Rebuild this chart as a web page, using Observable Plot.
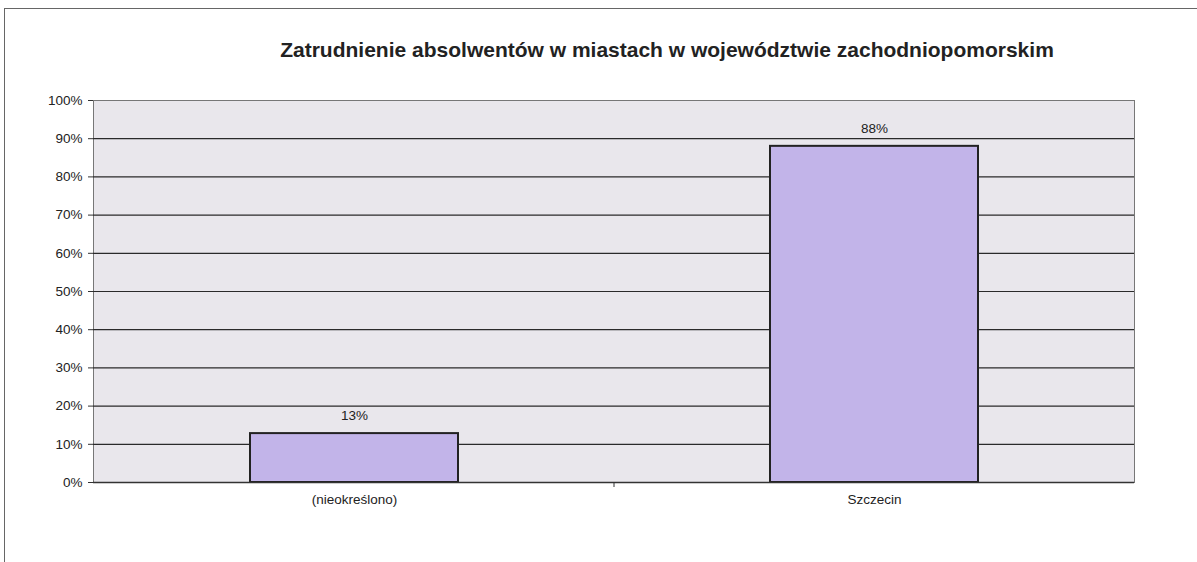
<!DOCTYPE html>
<html>
<head>
<meta charset="utf-8">
<script src="https://cdn.jsdelivr.net/npm/d3@7"></script>
<script src="https://cdn.jsdelivr.net/npm/@observablehq/plot@0.6"></script>
<style>
  html, body { margin: 0; padding: 0; background: #fff; }
  #wrap { position: relative; width: 1197px; height: 562px; overflow: hidden; font-family: Arial, "Liberation Sans", sans-serif; }
  #border { position: absolute; left: 4px; top: 8px; right: -10px; bottom: -10px; border-top: 1.5px solid #666; border-left: 1.5px solid #666; }
  #title { position: absolute; top: 37px; left: 667px; transform: translateX(-50%); white-space: nowrap; font-size: 21px; font-weight: bold; color: #222; line-height: 26px; }
  #chart { position: absolute; left: 0; top: 70px; }
</style>
</head>
<body>
<div id="wrap">
  <div id="border"></div>
  <div id="title">Zatrudnienie absolwentów w miastach w województwie zachodniopomorskim</div>
  <div id="chart"></div>
</div>
<script>
const categories = ["(nieokreślono)", "Szczecin"];
const values = [0.128, 0.88];
const yTicks = [0, 0.1, 0.2, 0.3, 0.4, 0.5, 0.6, 0.7, 0.8, 0.9, 1.0];

const data = categories.map((c, i) => ({category: c, value: values[i]}));
const pct = d3.format(".0%");

// separator tick between categories (Excel style), positioned via the x scale
function categorySeparators(index, scales, values, dims) {
  const g = d3.create("svg:g");
  const x = scales.x;
  const bw = x.bandwidth();
  const step = x.step();
  const y0 = dims.height - dims.marginBottom;
  for (let i = 1; i < categories.length; i++) {
    const px = x(categories[i]) - (step - bw) / 2;
    g.append("line").attr("x1", px).attr("x2", px).attr("y1", y0).attr("y2", y0 + 5)
      .attr("stroke", "#333").attr("stroke-width", 1);
  }
  return g.node();
}

const chart = Plot.plot({
  width: 1197,
  height: 492,
  marginLeft: 93,
  marginRight: 63,
  marginTop: 30,
  marginBottom: 80,
  style: {fontFamily: "Arial, 'Liberation Sans', sans-serif", fontSize: "13.5px", color: "#222", background: "transparent"},
  x: {domain: categories, paddingInner: 0.6, paddingOuter: 0.3},
  y: {domain: [0, 1]},
  marks: [
    Plot.frame({fill: "#e9e7ec", stroke: "#777", strokeWidth: 1}),
    Plot.ruleY(yTicks.slice(1, -1), {stroke: "#2a2a2a", strokeWidth: 1.2}),
    Plot.barY(data, {x: "category", y: "value", fill: "#c2b4e9", stroke: "#222", strokeWidth: 2}),
    Plot.text(data, {x: "category", y: "value", text: d => pct(d.value), dy: -18, fontSize: 13.5, fill: "#222"}),
    Plot.ruleX([0], {stroke: "#333", strokeWidth: 1.5, frameAnchor: "left"}),
    Plot.ruleY([0], {stroke: "#333", strokeWidth: 1.5}),
    Plot.axisY({ticks: yTicks, tickFormat: pct, tickSize: 5, tickPadding: 6, fontSize: 13.5, label: null, stroke: "#333"}),
    Plot.axisX({tickSize: 0, tickPadding: 12, fontSize: 13.5, label: null}),
    categorySeparators
  ]
});
document.getElementById("chart").appendChild(chart);
</script>
</body>
</html>
